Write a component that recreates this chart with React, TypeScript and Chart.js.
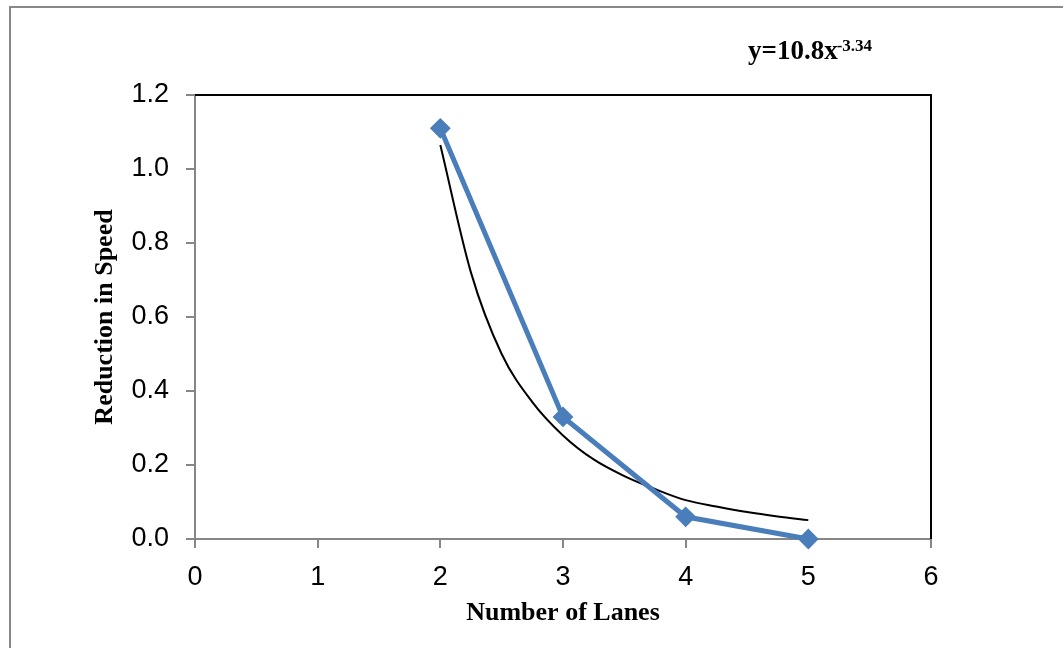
import React, { useEffect, useRef } from "react";
import { Chart, registerables } from "chart.js";

Chart.register(...registerables);

const lanes = [2, 3, 4, 5];
const speedReduction = [1.11, 0.33, 0.06, 0.0];

const trendX = [2, 2.25, 2.5, 2.75, 3, 3.25, 3.5, 3.75, 4, 4.25, 4.5, 4.75, 5];
const trendY = [1.065, 0.72, 0.5, 0.37, 0.28, 0.215, 0.17, 0.135, 0.105, 0.088, 0.073, 0.061, 0.051];

const xTicks = [0, 1, 2, 3, 4, 5, 6];
const yTicks = [0, 0.2, 0.4, 0.6, 0.8, 1.0, 1.2];

const equationMain = "y=10.8x";
const equationSup = "-3.34";
const xTitle = "Number of Lanes";
const yTitle = "Reduction in Speed";

const SANS = '"Liberation Sans", Arial, sans-serif';
const SERIF = '"Liberation Serif", "Times New Roman", serif';

export default function App() {
  const ref = useRef<HTMLCanvasElement | null>(null);

  useEffect(() => {
    if (!ref.current) return;

    const framePlugin = {
      id: "frame",
      afterDatasetsDraw(chart: any) {
        const { ctx, chartArea } = chart;
        ctx.save();
        ctx.strokeStyle = "#000";
        ctx.lineWidth = 2;
        ctx.beginPath();
        ctx.moveTo(chartArea.left, chartArea.top);
        ctx.lineTo(chartArea.right, chartArea.top);
        ctx.lineTo(chartArea.right, chartArea.bottom);
        ctx.stroke();
        ctx.restore();
      },
      afterDraw(chart: any) {
        const { ctx } = chart;
        ctx.save();
        ctx.fillStyle = "#000";
        ctx.textBaseline = "alphabetic";
        ctx.textAlign = "left";
        ctx.font = `bold 27px ${SERIF}`;
        ctx.fillText(equationMain, 748, 59);
        const w = ctx.measureText(equationMain).width;
        ctx.font = `bold 17px ${SERIF}`;
        ctx.fillText(equationSup, 748 + w - 1, 51);
        ctx.restore();
      },
    };

    const chart = new Chart(ref.current, {
      type: "scatter",
      data: {
        datasets: [
          {
            label: "Trend",
            data: trendX.map((x, i) => ({ x, y: trendY[i] })),
            showLine: true,
            borderColor: "#000",
            borderWidth: 2,
            pointRadius: 0,
            cubicInterpolationMode: "monotone",
            fill: false,
            clip: false,
            order: 2,
          },
          {
            label: "Reduction in Speed",
            data: lanes.map((x, i) => ({ x, y: speedReduction[i] })),
            showLine: true,
            borderColor: "#4a7ebb",
            backgroundColor: "#4a7ebb",
            borderWidth: 5,
            pointStyle: "rectRot",
            pointRadius: 9,
            pointBorderWidth: 2,
            pointBorderColor: "#4a7ebb",
            pointBackgroundColor: "#4a7ebb",
            tension: 0,
            fill: false,
            clip: false,
            order: 1,
          },
        ],
      },
      options: {
        animation: false,
        responsive: false,
        maintainAspectRatio: false,
        layout: { padding: { left: 0, top: 95, right: 132, bottom: 0 } },
        plugins: {
          legend: { display: false },
          tooltip: { enabled: false },
        },
        scales: {
          x: {
            type: "linear",
            min: 0,
            max: 6,
            afterBuildTicks: (scale: any) => {
              scale.ticks = xTicks.map((v) => ({ value: v }));
            },
            ticks: {
              color: "#000",
              font: { family: SANS, size: 27 },
              padding: 13,
              callback: (v: any) => String(v),
            },
            grid: {
              drawOnChartArea: false,
              drawTicks: true,
              tickLength: 9,
              color: "#868686",
              lineWidth: 2,
            },
            border: { color: "#868686", width: 2 },
            title: {
              display: true,
              text: xTitle,
              color: "#000",
              font: { family: SERIF, size: 26, weight: "bold" },
              padding: { top: 0, bottom: 19 },
            },
            afterFit: (scale: any) => {
              scale.height = 109;
            },
          },
          y: {
            type: "linear",
            min: 0,
            max: 1.2,
            afterBuildTicks: (scale: any) => {
              scale.ticks = yTicks.map((v) => ({ value: v }));
            },
            ticks: {
              color: "#000",
              font: { family: SANS, size: 27 },
              padding: 17,
              callback: (v: any) => Number(v).toFixed(1),
            },
            grid: {
              drawOnChartArea: false,
              drawTicks: true,
              tickLength: 9,
              color: "#868686",
              lineWidth: 2,
            },
            border: { color: "#868686", width: 2 },
            title: {
              display: true,
              text: yTitle,
              color: "#000",
              font: { family: SERIF, size: 26, weight: "bold" },
              padding: { top: 90, bottom: 0 },
            },
            afterFit: (scale: any) => {
              scale.width = 195;
            },
          },
        },
      },
      plugins: [framePlugin],
    });

    return () => chart.destroy();
  }, []);

  return (
    <div
      style={{
        position: "absolute",
        left: 0,
        top: 0,
        width: 1063,
        height: 648,
        background: "#fff",
        overflow: "hidden",
      }}
    >
      <div
        style={{
          position: "absolute",
          left: 9,
          top: 6,
          width: 1100,
          height: 700,
          borderLeft: "2px solid #888",
          borderTop: "2px solid #888",
        }}
      />
      <canvas
        ref={ref}
        width={1063}
        height={648}
        style={{ position: "absolute", left: 0, top: 0, width: 1063, height: 648 }}
      />
    </div>
  );
}
